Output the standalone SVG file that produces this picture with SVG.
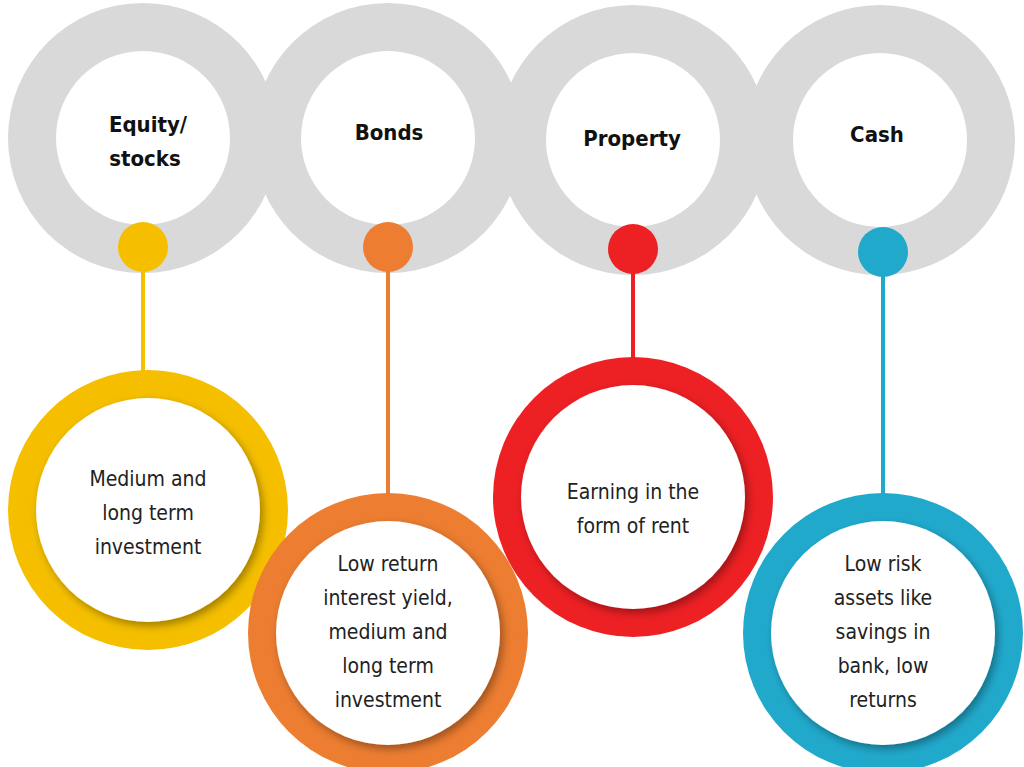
<svg xmlns="http://www.w3.org/2000/svg" width="1024" height="767" viewBox="0 0 1024 767">
<defs>
<style>
.grey{fill:#d9d9d9}
.hole{fill:#fff}
.t{font-family:"DejaVu Sans Condensed","Liberation Sans",sans-serif;text-anchor:middle}
.h{font-size:22px;font-weight:bold;fill:#111}
.b{font-size:21px;fill:#222}
</style>
<filter id="sh" x="-20%" y="-20%" width="140%" height="140%"><feDropShadow dx="3" dy="4" stdDeviation="4" flood-color="#000" flood-opacity="0.35"/></filter>
</defs>
<rect width="1024" height="767" fill="#fff"/>
<g id="top-rings">
<circle class="grey" cx="143" cy="138" r="135"/>
<circle class="grey" cx="388" cy="138" r="135"/>
<circle class="grey" cx="633" cy="140" r="135"/>
<circle class="grey" cx="880" cy="140" r="135"/>
<circle class="hole" cx="143" cy="138" r="87"/>
<circle class="hole" cx="388" cy="138" r="87"/>
<circle class="hole" cx="633" cy="140" r="87"/>
<circle class="hole" cx="880" cy="140" r="87"/>
</g>
<g id="connectors" stroke-width="4">
<line x1="143" y1="247" x2="143" y2="385" stroke="#f5bf00"/>
<line x1="388" y1="247" x2="388" y2="497" stroke="#ec7d31"/>
<line x1="633" y1="249" x2="633" y2="372" stroke="#ed2024"/>
<line x1="883" y1="252" x2="883" y2="497" stroke="#21a9cc"/>
</g>
<g id="dots">
<circle cx="143" cy="247" r="25" fill="#f5bf00"/>
<circle cx="388" cy="247" r="25" fill="#ec7d31"/>
<circle cx="633" cy="249" r="25" fill="#ed2024"/>
<circle cx="883" cy="252" r="25" fill="#21a9cc"/>
</g>
<g id="n1"><text class="t h" x="148" y="132">Equity/</text><text class="t h" x="145" y="166">stocks</text></g>
<g id="n2"><text class="t h" x="389" y="140">Bonds</text></g>
<g id="n3"><text class="t h" x="632" y="146">Property</text></g>
<g id="n4"><text class="t h" x="877" y="142">Cash</text></g>
<g id="b1">
<circle cx="148" cy="510" r="140" fill="#f5bf00"/>
<circle cx="148" cy="510" r="112" fill="#fff" filter="url(#sh)"/>
<text class="t b" x="148" y="486">Medium and</text><text class="t b" x="148" y="520">long term</text><text class="t b" x="148" y="554">investment</text>
</g>
<g id="b2">
<circle cx="388" cy="633" r="140" fill="#ec7d31"/>
<circle cx="388" cy="633" r="112" fill="#fff" filter="url(#sh)"/>
<text class="t b" x="388" y="571">Low return</text><text class="t b" x="388" y="605">interest yield,</text><text class="t b" x="388" y="639">medium and</text><text class="t b" x="388" y="673">long term</text><text class="t b" x="388" y="707">investment</text>
</g>
<g id="b3">
<circle cx="633" cy="497" r="140" fill="#ed2024"/>
<circle cx="633" cy="497" r="112" fill="#fff" filter="url(#sh)"/>
<text class="t b" x="633" y="499">Earning in the</text><text class="t b" x="633" y="533">form of rent</text>
</g>
<g id="b4">
<circle cx="883" cy="633" r="140" fill="#21a9cc"/>
<circle cx="883" cy="633" r="112" fill="#fff" filter="url(#sh)"/>
<text class="t b" x="883" y="571">Low risk</text><text class="t b" x="883" y="605">assets like</text><text class="t b" x="883" y="639">savings in</text><text class="t b" x="883" y="673">bank, low</text><text class="t b" x="883" y="707">returns</text>
</g>
</svg>
